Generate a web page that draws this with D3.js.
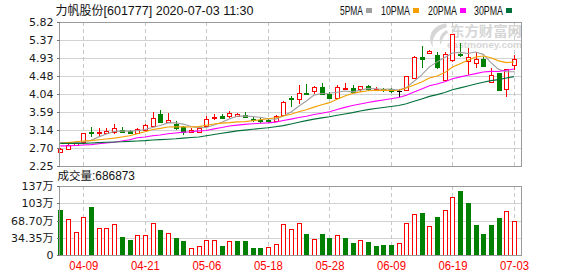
<!DOCTYPE html>
<html><head><meta charset="utf-8">
<script src="https://cdn.jsdelivr.net/npm/d3@7"></script>
<style>
html,body{margin:0;padding:0;background:#fff;}
svg{display:block;}
</style></head><body>
<svg id="chart" width="578" height="276"></svg>
<script>
// ---------------- data ----------------
const dates = ["2020-04-03","2020-04-07","2020-04-08","2020-04-09","2020-04-10","2020-04-13","2020-04-14","2020-04-15","2020-04-16","2020-04-17",
"2020-04-20","2020-04-21","2020-04-22","2020-04-23","2020-04-24","2020-04-27","2020-04-28","2020-04-29","2020-04-30","2020-05-06",
"2020-05-07","2020-05-08","2020-05-11","2020-05-12","2020-05-13","2020-05-14","2020-05-15","2020-05-18","2020-05-19","2020-05-20",
"2020-05-21","2020-05-22","2020-05-25","2020-05-26","2020-05-27","2020-05-28","2020-05-29","2020-06-01","2020-06-02","2020-06-03",
"2020-06-04","2020-06-05","2020-06-08","2020-06-09","2020-06-10","2020-06-11","2020-06-12","2020-06-15","2020-06-16","2020-06-17",
"2020-06-18","2020-06-19","2020-06-22","2020-06-23","2020-06-24","2020-06-29","2020-06-30","2020-07-01","2020-07-02","2020-07-03"];
const open = [2.59,2.66,2.76,2.84,3.10,3.08,3.07,3.09,3.14,3.12, 3.07,3.14,3.24,3.53,3.35,3.29,3.21,3.10,3.10,3.24,
3.45,3.49,3.48,3.50,3.51,3.42,3.39,3.38,3.37,3.51, 3.94,3.91,4.06,4.11,4.20,4.04,3.94,4.17,4.18,4.16,
4.23,4.14,4.15,4.15,4.10,4.13,4.44,4.95,5.06,5.01, 4.37,4.88,5.02,4.86,4.81,4.90,4.33,4.55,4.15,4.75];
const high = [2.70,2.80,2.87,3.08,3.22,3.19,3.18,3.29,3.22,3.14, 3.19,3.29,3.59,3.63,3.56,3.37,3.23,3.18,3.22,3.49,
3.53,3.54,3.61,3.57,3.59,3.46,3.43,3.41,3.51,3.87, 3.99,4.25,4.28,4.23,4.32,4.09,4.25,4.30,4.25,4.23,
4.25,4.20,4.19,4.19,4.15,4.49,4.97,5.23,5.13,5.07, 5.08,5.52,5.31,5.17,5.08,4.95,4.69,4.55,4.66,5.00];
const low = [2.57,2.66,2.76,2.83,2.98,2.99,3.05,3.04,3.08,3.04, 3.04,3.11,3.21,3.31,3.31,3.14,3.02,3.06,3.09,3.21,
3.39,3.43,3.44,3.47,3.43,3.35,3.32,3.31,3.36,3.48, 3.71,3.79,4.03,4.04,4.02,3.92,3.93,4.13,4.05,4.09,
4.12,4.12,4.09,4.07,3.97,4.11,4.43,4.69,5.02,4.66, 4.36,4.84,4.96,4.51,4.69,4.71,4.30,4.11,3.95,4.63];
const close = [2.67,2.78,2.85,3.07,3.06,3.10,3.13,3.19,3.10,3.06, 3.16,3.26,3.43,3.35,3.39,3.18,3.10,3.14,3.20,3.42,
3.47,3.45,3.56,3.53,3.46,3.39,3.37,3.37,3.48,3.83, 3.90,4.07,4.04,4.20,4.03,3.93,4.20,4.19,4.09,4.23,
4.17,4.16,4.13,4.10,4.10,4.48,4.95,4.91,5.10,4.71, 5.02,5.52,4.99,4.96,4.90,4.73,4.51,4.13,4.66,4.90];
const prevCloseBeforeStart = 2.72;
// volume in 万 (10k shares)
const volume = [90.0,71.6,46.5,75.5,95.9,53.8,53.8,62.3,36.6,30.6, 40.5,40.5,63.7,50.4,43.9,34.6,28.7,14.2,18.2,30.0,
30.0,18.8,28.1,28.7,28.7,14.8,14.8,16.2,22.1,62.3, 51.8,63.7,42.5,32.0,42.5,34.6,39.9,34.6,24.7,30.0,
26.7,18.8,20.8,20.8,24.7,63.7,82.0,84.0,58.3,76.1, 89.4,115.0,127.5,103.8,60.3,42.5,60.3,74.1,87.4,68.6873];
const ma5 = [2.83,2.82,2.83,2.85,2.886,2.972,3.041,3.108,3.114,3.114, 3.126,3.153,3.203,3.252,3.318,3.321,3.289,3.231,3.201,3.206,
3.266,3.335,3.418,3.484,3.492,3.476,3.459,3.422,3.413,3.487, 3.590,3.730,3.863,4.007,4.047,4.052,4.079,4.110,4.088,4.128,
4.175,4.167,4.154,4.156,4.131,4.194,4.352,4.509,4.709,4.831, 4.939,5.052,5.067,5.039,5.076,5.018,4.815,4.645,4.585,4.585];
const ma10 = [2.81,2.83,2.85,2.87,2.88,2.90,2.92,2.94,2.97,3.000, 3.049,3.097,3.155,3.183,3.216,3.224,3.221,3.217,3.227,3.262,
3.293,3.312,3.325,3.343,3.349,3.371,3.397,3.420,3.448,3.490, 3.533,3.595,3.643,3.710,3.767,3.821,3.904,3.987,4.048,4.087,
4.114,4.123,4.132,4.122,4.129,4.184,4.260,4.331,4.432,4.481, 4.566,4.702,4.788,4.874,4.954,4.978,4.934,4.856,4.812,4.831];
const ma20 = [2.75,2.75,2.76,2.77,2.78,2.80,2.82,2.84,2.87,2.90, 2.95,2.97,3.00,3.02,3.05,3.07,3.09,3.10,3.12,3.131,
3.171,3.205,3.240,3.263,3.283,3.297,3.309,3.318,3.337,3.376, 3.413,3.453,3.484,3.526,3.558,3.596,3.651,3.703,3.748,3.788,
3.823,3.859,3.887,3.916,3.948,4.003,4.082,4.159,4.240,4.284, 4.340,4.413,4.460,4.498,4.541,4.581,4.597,4.594,4.622,4.656];
const ma30 = [2.81,2.81,2.81,2.81,2.82,2.83,2.84,2.845,2.85,2.86, 2.87,2.88,2.895,2.905,2.915,2.925,2.94,2.955,2.97,3.00,
3.03,3.06,3.09,3.12,3.14,3.16,3.18,3.20,3.225,3.251, 3.292,3.335,3.374,3.412,3.444,3.472,3.508,3.541,3.574,3.613,
3.647,3.677,3.700,3.725,3.748,3.792,3.854,3.913,3.976,4.019, 4.071,4.140,4.187,4.235,4.283,4.328,4.366,4.391,4.430,4.466];

const priceTicks = [2.25,2.70,3.14,3.59,4.04,4.48,4.93,5.37,5.82];
const priceTickLabels = ["2.25","2.70","3.14","3.59","4.04","4.48","4.93","5.37","5.82"];
const volTicks = [0,34.35,68.70,103.05,137.4];
const volTickLabels = ["0","34.35万","68.70万","103万","137万"];
const dateTicks = ["2020-04-09","2020-04-21","2020-05-06","2020-05-18","2020-05-28","2020-06-09","2020-06-19","2020-07-03"];
const dateTickLabels = ["04-09","04-21","05-06","05-18","05-28","06-09","06-19","07-03"];
const maNames = ["5PMA","10PMA","20PMA","30PMA"];
const titleName = "力帆股份";
const titleCode = "[601777] 2020-07-03 11:30";

// ---------------- layout ----------------
const svg = d3.select("#chart");
const L = 59.5, R = 521.5, T = 22, B = 166, VT = 186, VB = 255;
const x = d3.scalePoint().domain(dates).range([60.3, 514]);
const y = d3.scaleLinear().domain([2.25, 5.82]).range([B, T]);
const yv = d3.scaleLinear().domain([0, 137.4]).range([VB, VT]);
const px = d => Math.round(x(d)) + 0.5;
const cUp = "#ff0000", cDn = "#008000";
const maColors = ["#a0a0a0", "#f5a000", "#ff00ff", "#00703a"];
const gridColor = "#d2d2d2", borderColor = "#9a9a9a";

const data = dates.map((d, i) => ({date: d, o: open[i], h: high[i], l: low[i], c: close[i], v: volume[i],
  pc: i ? close[i - 1] : prevCloseBeforeStart}));
const candleColor = d => d.c > d.o ? cUp : (d.c < d.o ? cDn : "#000");
const volColor = d => d.c >= d.pc ? cUp : cDn;

// ---------------- grids ----------------
const grid = svg.append("g").attr("shape-rendering", "crispEdges");
grid.selectAll("line.hp").data(priceTicks).join("line").attr("class", "hp")
  .attr("x1", L).attr("x2", R).attr("y1", d => Math.round(y(d)) + 0.5).attr("y2", d => Math.round(y(d)) + 0.5)
  .attr("stroke", gridColor);
grid.selectAll("line.hv").data(volTicks).join("line").attr("class", "hv")
  .attr("x1", L).attr("x2", R).attr("y1", d => Math.round(yv(d)) + 0.5).attr("y2", d => Math.round(yv(d)) + 0.5)
  .attr("stroke", gridColor);
[[T, B], [VT, VB]].forEach(([t, b]) => {
  grid.append("g").selectAll("line").data(dateTicks).join("line")
    .attr("x1", d => px(d)).attr("x2", d => px(d)).attr("y1", t).attr("y2", b)
    .attr("stroke", "#c8c8c8").attr("stroke-dasharray", "4,3");
});

// ---------------- watermark ----------------
const wm = svg.append("g").attr("fill", "#d6d6d6");
wm.append("path").attr("d", "M446,23.5 C433,25 426,36 433,47.5 C431,39 436,30 447,27 Z");
wm.append("path").attr("d", "M447,30 C440,33 438,40 441,45 C442,39 444,35 448,33 Z");
wm.append("text").attr("x", 450).attr("y", 35.5).attr("font-family", "Noto Sans CJK SC").attr("font-weight", "bold")
  .attr("font-size", 13.5).attr("textLength", 72).attr("lengthAdjust", "spacingAndGlyphs").text("东方财富网");
wm.append("text").attr("x", 447).attr("y", 47.5).attr("font-family", "Liberation Sans").attr("font-weight", "bold")
  .attr("font-size", 9.5).attr("textLength", 75).attr("lengthAdjust", "spacingAndGlyphs").text("eastmoney.com");

// ---------------- candles ----------------
const cg = svg.append("g").attr("shape-rendering", "crispEdges");
const cs = cg.selectAll("g").data(data).join("g");
cs.append("line").attr("x1", d => px(d.date)).attr("x2", d => px(d.date))
  .attr("y1", d => y(d.h)).attr("y2", d => y(d.l)).attr("stroke", candleColor);
cs.each(function(d) {
  const g = d3.select(this);
  const top = Math.round(y(Math.max(d.o, d.c))) + 0.5;
  const bot = Math.round(y(Math.min(d.o, d.c))) + 0.5;
  const col = candleColor(d);
  if (bot - top < 1) {
    g.append("line").attr("x1", px(d.date) - 2.5).attr("x2", px(d.date) + 2.5).attr("y1", top).attr("y2", top)
      .attr("stroke", col);
  } else {
    g.append("rect").attr("x", px(d.date) - 2).attr("width", 4).attr("y", top).attr("height", bot - top)
      .attr("stroke", col).attr("fill", d.c > d.o ? "#fff" : col);
  }
});

// ---------------- MA lines ----------------
svg.append("clipPath").attr("id", "clipMain").append("rect").attr("x", L).attr("y", T).attr("width", R - L).attr("height", B - T);
const maSeries = [ma5, ma10, ma20, ma30];
const lineGen = d3.line().x(d => x(d.date)).y(d => y(d.v));
svg.append("g").attr("clip-path", "url(#clipMain)").selectAll("path")
  .data(maSeries.map((s, k) => ({k, pts: dates.map((d, i) => ({date: d, v: s[i]}))})))
  .join("path").attr("d", d => lineGen(d.pts)).attr("fill", "none")
  .attr("stroke", d => maColors[d.k]).attr("stroke-width", 1.1);

// ---------------- volume ----------------
svg.append("g").attr("shape-rendering", "crispEdges").selectAll("rect").data(data).join("rect")
  .attr("x", d => px(d.date) - 2).attr("width", 4)
  .attr("y", d => Math.round(yv(d.v)) + 0.5).attr("height", d => VB - Math.round(yv(d.v)))
  .attr("stroke", volColor).attr("fill", d => volColor(d) === cUp ? "#fff" : cDn);

// ---------------- borders ----------------
const bd = svg.append("g").attr("shape-rendering", "crispEdges").attr("fill", "none").attr("stroke", borderColor);
bd.append("rect").attr("x", L).attr("y", T + 0.5).attr("width", R - L).attr("height", B - T);
bd.append("rect").attr("x", L).attr("y", VT + 0.5).attr("width", R - L).attr("height", VB - VT);

// ---------------- axes ----------------
function styleAxis(g) {
  g.select(".domain").remove();
  g.selectAll(".tick line").attr("stroke", "#777").attr("shape-rendering", "crispEdges");
  g.selectAll(".tick text").attr("fill", "#1a1a1a");
}
svg.append("g").attr("transform", `translate(${L},0)`)
  .call(d3.axisLeft(y).tickValues(priceTicks).tickFormat((d, i) => priceTickLabels[i]).tickSizeInner(3).tickSizeOuter(0).tickPadding(3))
  .attr("font-family", "DejaVu Sans").attr("font-size", 11).call(styleAxis);
svg.append("g").attr("transform", `translate(${L},0)`)
  .call(d3.axisLeft(yv).tickValues(volTicks).tickFormat((d, i) => volTickLabels[i]).tickSizeInner(3).tickSizeOuter(0).tickPadding(3))
  .attr("font-family", "DejaVu Sans, Noto Sans CJK SC").attr("font-size", 11).call(styleAxis);
svg.append("g").attr("transform", `translate(0,${VB})`)
  .call(d3.axisBottom(x).tickValues(dateTicks).tickFormat((d, i) => dateTickLabels[i]).tickSize(0).tickPadding(6.5))
  .attr("font-family", "Liberation Sans").attr("font-size", 12)
  .call(g => { g.select(".domain").remove(); g.selectAll(".tick text").attr("fill", "#ff0000")
    .attr("textLength", 29).attr("lengthAdjust", "spacingAndGlyphs"); });

// ---------------- title & legend ----------------
const title = svg.append("text").attr("x", 55.5).attr("y", 14.5).attr("fill", "#111");
title.append("tspan").attr("font-family", "Noto Sans CJK SC").attr("font-size", 12).text(titleName);
title.append("tspan").attr("font-family", "Liberation Sans").attr("font-size", 12)
  .attr("textLength", 150).attr("lengthAdjust", "spacingAndGlyphs").text(titleCode);

const legX = [340, 381, 428, 474], legW = [23, 29, 29, 29];
const leg = svg.append("g");
maNames.forEach((n, k) => {
  leg.append("text").attr("x", legX[k]).attr("y", 14.5).attr("font-family", "Liberation Sans").attr("font-size", 12)
    .attr("fill", "#111").attr("textLength", legW[k]).attr("lengthAdjust", "spacingAndGlyphs").text(n);
  leg.append("rect").attr("x", legX[k] + legW[k] + 3).attr("y", 8).attr("width", 6).attr("height", 5).attr("fill", maColors[k]);
});

const vt = svg.append("text").attr("x", 57.5).attr("y", 180).attr("fill", "#111");
vt.append("tspan").attr("font-family", "Noto Sans CJK SC").attr("font-size", 11.5).text("成交量");
vt.append("tspan").attr("font-family", "Liberation Sans").attr("font-size", 12)
  .attr("textLength", 43).attr("lengthAdjust", "spacingAndGlyphs").text(":" + Math.round(volume[volume.length - 1] * 10000));
</script>
</body></html>
